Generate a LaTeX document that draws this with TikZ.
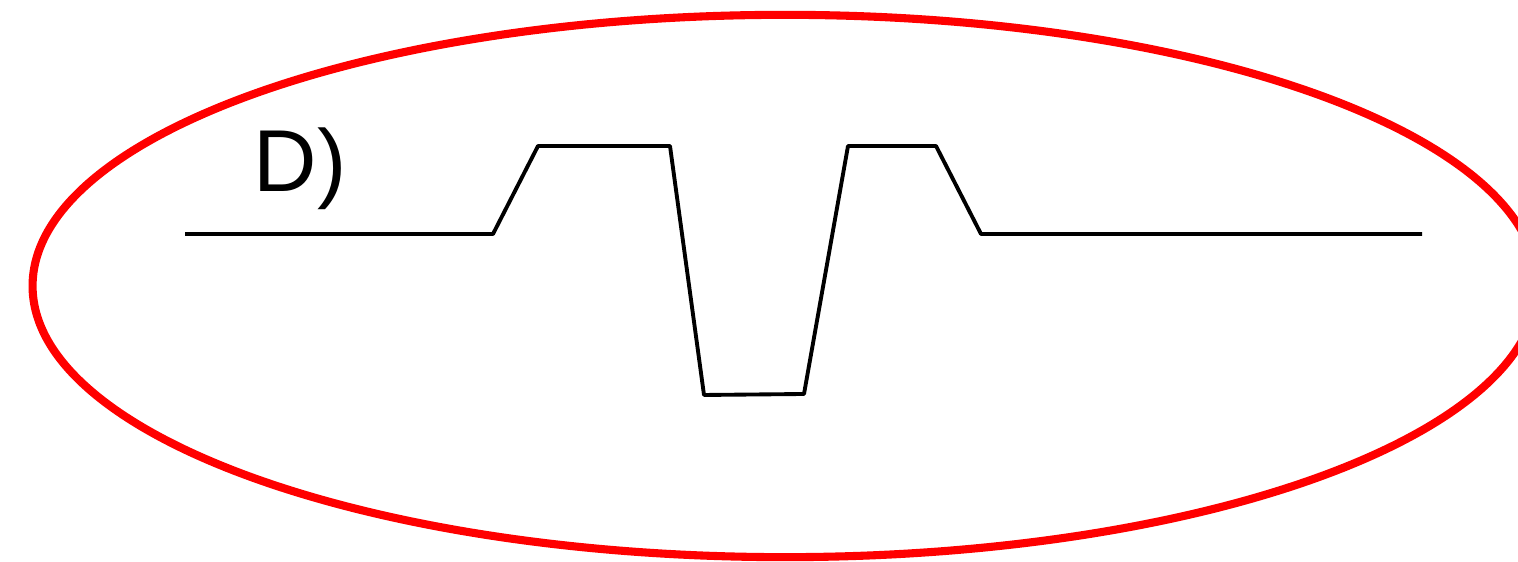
\documentclass[tikz,border=0pt]{standalone}
\usepackage{fontspec}
\setmainfont{Liberation Sans}
\usepackage{tikz}

\begin{document}
\begin{tikzpicture}[
    x=0.01cm, y=-0.01cm,
    ring/.style={draw=red, line width=2.3pt},
    wave/.style={draw=black, line width=1.1pt, line join=round},
    tag/.style={font=\fontsize{25}{29}\selectfont, inner sep=0pt},
]
\useasboundingbox (0,0) rectangle (1518,562);

% Outline
\draw[ring] (785,286) ellipse [x radius=7.52cm, y radius=2.71cm];

% Pulse
\coordinate (start) at (185,234);
\coordinate (rise1) at (493,234);
\coordinate (top1a) at (538,146);
\coordinate (top1b) at (670,146);
\coordinate (low1) at (704,395);
\coordinate (low2) at (804,394);
\coordinate (top2a) at (848,146);
\coordinate (top2b) at (936,146);
\coordinate (fall2) at (981,234);
\coordinate (stop) at (1422,234);
\draw[wave] (start) -- (rise1) -- (top1a) -- (top1b) -- (low1) -- (low2)
    -- (top2a) -- (top2b) -- (fall2) -- (stop);

% Label
\node[tag, anchor=base west] (lbl) at (253,192) {D)};
\end{tikzpicture}
\end{document}
